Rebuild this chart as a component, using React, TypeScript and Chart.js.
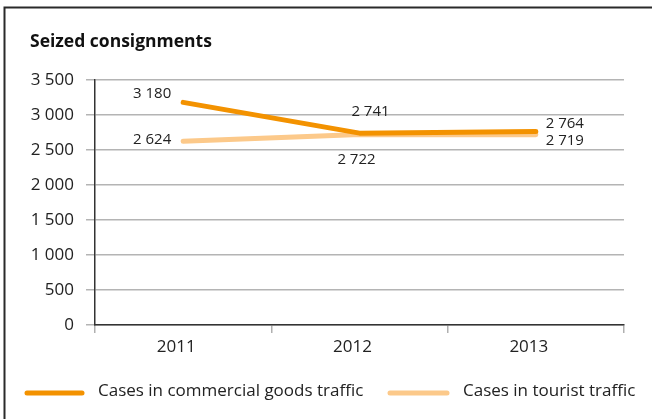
import React, { useEffect, useRef } from "react";
import { Chart, registerables } from "chart.js";

Chart.register(...registerables);

const TITLE = "Seized consignments";
const YEARS = ["2011", "2012", "2013"];
const SERIES_NAMES = ["Cases in commercial goods traffic", "Cases in tourist traffic"];
const COMMERCIAL = [3180, 2741, 2764];
const TOURIST = [2624, 2722, 2719];
const Y_MIN = 0;
const Y_MAX = 3500;
const Y_STEP = 500;

const COLORS = ["#F39200", "#FCC98A"];
// label offsets (dx, dy) from point centre to text centre, per series, per point
const LABEL_OFFSETS = [
  [[-31, -9], [11, -21], [29, -8]],
  [[-31, -2], [-3, 25], [29, 6]],
];

const FONT = "'Open Sans', 'Noto Sans', sans-serif";

const fmt = (v: number) => {
  const s = Math.round(v).toString();
  return s.replace(/\B(?=(\d{3})+(?!\d))/g, " ");
};

const decorPlugin = {
  id: "decor",
  afterDraw(chart: any) {
    const ctx = chart.ctx;
    ctx.save();
    // frame
    ctx.strokeStyle = "#2a2a2a";
    ctx.lineWidth = 2;
    ctx.beginPath();
    ctx.moveTo(4.5, 419);
    ctx.lineTo(4.5, 7.5);
    ctx.lineTo(652, 7.5);
    ctx.stroke();
    // title
    ctx.fillStyle = "#111";
    ctx.font = `bold 17.5px ${FONT}`;
    ctx.textAlign = "left";
    ctx.textBaseline = "middle";
    ctx.fillText(TITLE, 30, 42);
    // data labels
    ctx.font = `15px ${FONT}`;
    ctx.fillStyle = "#222";
    ctx.textAlign = "center";
    chart.data.datasets.forEach((ds: any, di: number) => {
      const meta = chart.getDatasetMeta(di);
      meta.data.forEach((pt: any, i: number) => {
        const off = LABEL_OFFSETS[di][i];
        ctx.fillText(fmt(ds.data[i]), pt.x + off[0], pt.y + off[1]);
      });
    });
    // legend
    const items = [
      { x1: 27, x2: 82, tx: 98 },
      { x1: 390, x2: 447, tx: 463 },
    ];
    ctx.font = `17px ${FONT}`;
    ctx.textAlign = "left";
    ctx.lineCap = "round";
    items.forEach((it, i) => {
      ctx.strokeStyle = COLORS[i];
      ctx.lineWidth = 5;
      ctx.beginPath();
      ctx.moveTo(it.x1, 393);
      ctx.lineTo(it.x2, 393);
      ctx.stroke();
      ctx.fillStyle = "#222";
      ctx.fillText(SERIES_NAMES[i], it.tx, 391);
    });
    ctx.restore();
  },
};

export default function App() {
  const ref = useRef<HTMLCanvasElement>(null);
  useEffect(() => {
    if (!ref.current) return;
    const chart = new Chart(ref.current, {
      type: "line",
      data: {
        labels: YEARS,
        datasets: [
          {
            label: SERIES_NAMES[0],
            data: COMMERCIAL,
            borderColor: COLORS[0],
            backgroundColor: COLORS[0],
            borderWidth: 5,
            borderCapStyle: "round",
            borderJoinStyle: "round",
            pointRadius: 0,
            tension: 0,
          },
          {
            label: SERIES_NAMES[1],
            data: TOURIST,
            borderColor: COLORS[1],
            backgroundColor: COLORS[1],
            borderWidth: 5,
            borderCapStyle: "round",
            borderJoinStyle: "round",
            pointRadius: 0,
            tension: 0,
          },
        ],
      },
      options: {
        responsive: false,
        animation: false,
        devicePixelRatio: 1,
        layout: { padding: { top: 80, right: 28, bottom: 0, left: 0 } },
        plugins: { legend: { display: false }, tooltip: { enabled: false }, title: { display: false } },
        scales: {
          x: {
            type: "category",
            offset: true,
            grid: {
              offset: true,
              drawOnChartArea: false,
              drawTicks: true,
              tickLength: 8,
              color: "#b0b0b0",
              lineWidth: 1.5,
            },
            border: { display: true, color: "#333", width: 1.5 },
            ticks: {
              color: "#222",
              font: { family: FONT, size: 17 },
              padding: 4,
              labelOffset: -7,
              maxRotation: 0,
            },
            afterFit: (s: any) => {
              s.height = 94;
            },
          },
          y: {
            min: Y_MIN,
            max: Y_MAX,
            grid: {
              color: "#b4b4b4",
              lineWidth: 1.5,
              drawTicks: true,
              tickLength: 9,
            },
            border: { display: true, color: "#333", width: 1.5 },
            ticks: {
              stepSize: Y_STEP,
              color: "#222",
              font: { family: FONT, size: 17 },
              padding: 12,
              callback: (v: any) => fmt(Number(v)),
            },
            afterFit: (s: any) => {
              s.width = 95;
            },
          },
        },
      },
      plugins: [decorPlugin],
    } as any);
    return () => chart.destroy();
  }, []);
  return (
    <div style={{ position: "absolute", left: 0, top: 0, width: 652, height: 419, background: "#fff" }}>
      <canvas ref={ref} width={652} height={419} style={{ display: "block" }} />
    </div>
  );
}
